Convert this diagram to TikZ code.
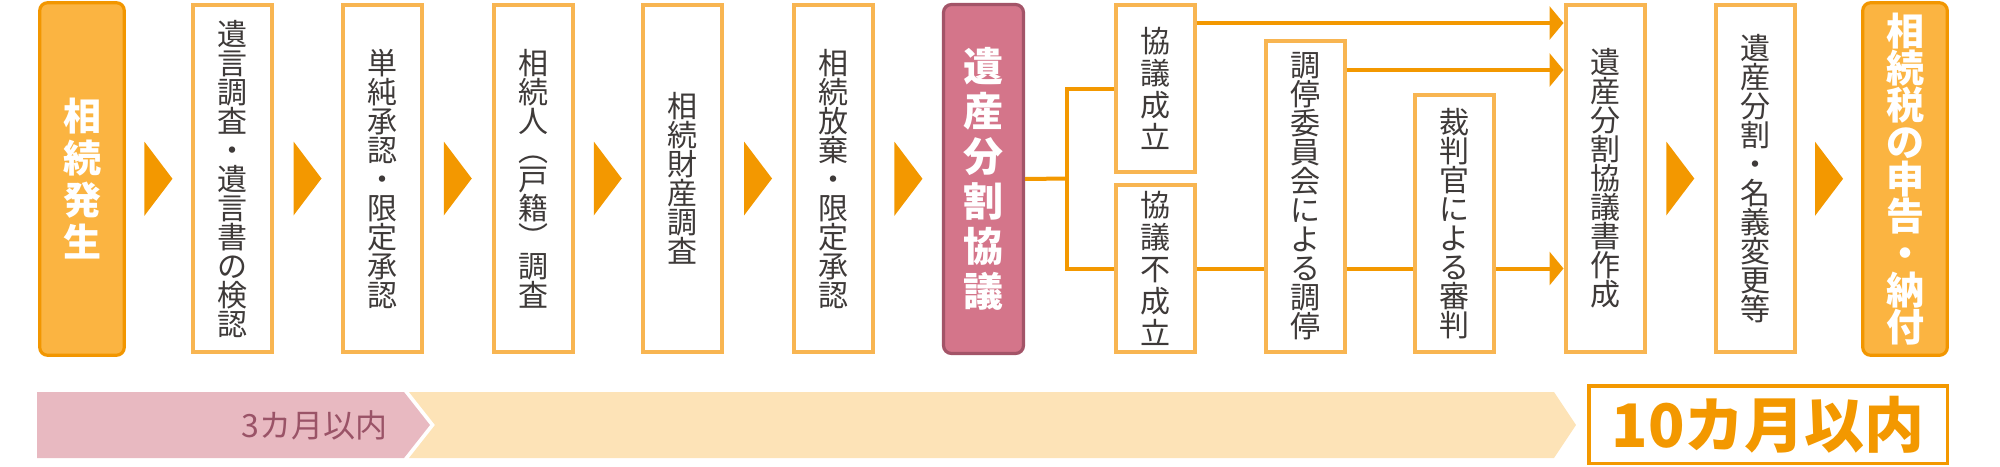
\documentclass[tikz,border=0pt]{standalone}
\usepackage{fontspec}
\newfontfamily\jpfont{Noto Sans CJK JP}
\usetikzlibrary{calc}
\usetikzlibrary{arrows.meta}
\definecolor{boxline}{HTML}{F8B551}
\definecolor{flowline}{HTML}{F39800}
\definecolor{mainfill}{HTML}{FBB441}
\definecolor{mainline}{HTML}{F29600}
\definecolor{talkfill}{HTML}{D4758A}
\definecolor{talkline}{HTML}{A35468}
\definecolor{bandpink}{HTML}{E8B9C1}
\definecolor{bandcream}{HTML}{FDE3B7}
\definecolor{mauve}{HTML}{9A5367}
\definecolor{txt}{HTML}{3E3A39}
\newcommand{\chevron}[2]% left node, right node
{\fill[flowline] ($(#1.east)!.5!(#2.west)$) ++(-14,-37) -- ++(28,37) -- ++(-28,37) -- cycle;
}
\newcommand{\tatefont}[2]% size, line pitch
{\jpfont\fontsize{#1}{#2}\selectfont\lineskiplimit=-30pt
}

\begin{document}
\begin{tikzpicture}[x=0.5pt,y=-0.5pt,
	box/.style={draw=boxline, line width=2pt, fill=white, text=txt, inner sep=0pt, align=center,
		minimum width=39.5pt, minimum height=173.5pt, font=\tatefont{15pt}{14.5pt}},
	mainbox/.style={draw=mainline, line width=1.6pt, fill=mainfill, rounded corners=4pt, text=white,
		inner sep=0pt, align=center, minimum width=42.3pt, minimum height=176.3pt},
	flow/.style={draw=flowline, line width=2pt},
	arrowed/.style={-{Triangle[width=16.5pt,length=7pt]}}]
	\useasboundingbox (0,0) rectangle (2000,466);
	% steps
	\node[mainbox, font=\tatefont{19pt}{21pt}\bfseries] (start) at (82,179) {相\\続\\発\\生};
	\node[box] (will) at (232.5,178.5) {遺\\言\\調\\査\\・\\遺\\言\\書\\の\\検\\認};
	\node[box] (accept) at (382.5,178.5) {単\\純\\承\\認\\・\\限\\定\\承\\認};
	\node[box] (heirs) at (533,178.5) {相\\続\\人\\︵\\戸\\籍\\︶\\調\\査};
	\node[box] (assets) at (682.5,178.5) {相\\続\\財\\産\\調\\査};
	\node[box] (renounce) at (833.5,178.5) {相\\続\\放\\棄\\・\\限\\定\\承\\認};
	\node[mainbox, draw=talkline, fill=talkfill, minimum width=40pt, minimum height=174.5pt,
		font=\tatefont{20pt}{22.5pt}\bfseries] (talks) at (983.5,179) {遺\\産\\分\\割\\協\\議};
	\node[box, minimum height=83.5pt, font=\tatefont{15pt}{16pt}] (agree) at (1155,88.5) {協\\議\\成\\立};
	\node[box, minimum height=83.5pt, font=\tatefont{15pt}{16pt}] (fail) at (1155,268.5) {協\\議\\不\\成\\立};
	\node[box, minimum height=155.5pt] (mediate) at (1305,196.5) {調\\停\\委\\員\\会\\に\\よ\\る\\調\\停};
	\node[box, minimum height=128.5pt] (judge) at (1454.5,223.5) {裁\\判\\官\\に\\よ\\る\\審\\判};
	\node[box] (deed) at (1605,178.5) {遺\\産\\分\\割\\協\\議\\書\\作\\成};
	\node[box] (transfer) at (1755.5,178.5) {遺\\産\\分\\割\\・\\名\\義\\変\\更\\等};
	\node[mainbox, font=\tatefont{19pt}{18.5pt}\bfseries] (tax) at (1905,179) {相\\続\\税\\の\\申\\告\\・\\納\\付};
	\chevron{start}{will}
	\chevron{will}{accept}
	\chevron{accept}{heirs}
	\chevron{heirs}{assets}
	\chevron{assets}{renounce}
	\chevron{renounce}{talks}
	\chevron{deed}{transfer}
	\chevron{transfer}{tax}
	% branches after the talks
	\coordinate (fork) at (1067,178.5);
	\coordinate (row1) at (0,23);
	\coordinate (row2) at (0,70);
	\draw[flow] (talks.east) -- (fork);
	\draw[flow] (agree.west) -| (fork) |- (fail.west);
	\draw[flow, arrowed] (agree.east |- row1) -- (deed.west |- row1);
	\draw[flow, arrowed] (mediate.east |- row2) -- (deed.west |- row2);
	\draw[flow] (fail.east) -- (fail.east -| mediate.west);
	\draw[flow] (fail.east -| mediate.east) -- (fail.east -| judge.west);
	\draw[flow, arrowed] (fail.east -| judge.east) -- (fail.east -| deed.west);
	% time limits
	\fill[bandpink] (37,392) -- (404,392) -- (430,425) -- (404,458) -- (37,458) -- cycle;
	\fill[bandcream] (409,392) -- (1554,392) -- (1576,425) -- (1554,458) -- (409,458) -- (435,425) -- cycle;
	\node[text=mauve, font=\tatefont{16pt}{16pt}, anchor=east, inner sep=0pt] (three) at (388,425) {3カ月以内};
	\node[draw=flowline, line width=1.75pt, minimum width=179.25pt, minimum height=38.75pt, text=flowline,
		font=\tatefont{30pt}{30pt}\bfseries] (ten) at (1768,424.5) {10カ月以内};
\end{tikzpicture}
\end{document}
